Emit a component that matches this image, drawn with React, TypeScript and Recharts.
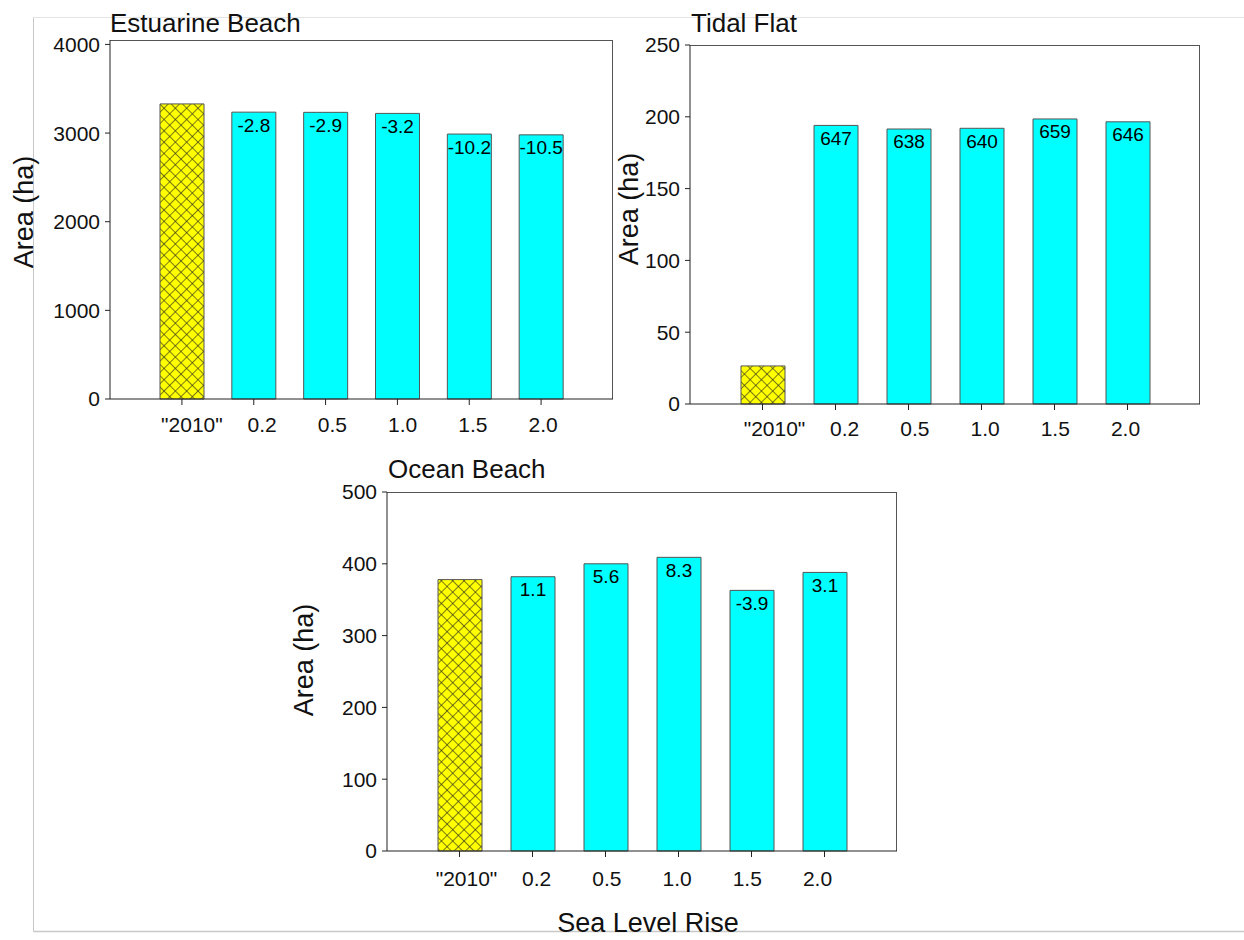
import React from "react";
import { BarChart, Bar, XAxis, YAxis, Cell, LabelList } from "recharts";

const FONT = '"Liberation Sans", Arial, sans-serif';

// x categories shared by the three panels (sea level rise scenarios)
const CATEGORIES = ['"2010"', "0.2", "0.5", "1.0", "1.5", "2.0"];

// Estuarine Beach, area (ha) and % change vs 2010
const ESTUARINE_AREA = [3329, 3236, 3234, 3222, 2989, 2980];
const ESTUARINE_CHANGE = [null, "-2.8", "-2.9", "-3.2", "-10.2", "-10.5"];
const ESTUARINE_TICKS = [0, 1000, 2000, 3000, 4000];

// Tidal Flat
const TIDAL_AREA = [26.5, 194, 191.5, 192, 198.5, 196.5];
const TIDAL_CHANGE = [null, "647", "638", "640", "659", "646"];
const TIDAL_TICKS = [0, 50, 100, 150, 200, 250];

// Ocean Beach
const OCEAN_AREA = [378, 382, 400, 409, 363, 388];
const OCEAN_CHANGE = [null, "1.1", "5.6", "8.3", "-3.9", "3.1"];
const OCEAN_TICKS = [0, 100, 200, 300, 400, 500];

const CYAN = "#00ffff";
const AXIS = "#222";

type Row = { name: string; area: number; change: string | null };

function buildRows(area: number[], change: (string | null)[]): Row[] {
  return CATEGORIES.map((name, i) => ({ name, area: area[i], change: change[i] }));
}

// tick labels in the original drift slightly left of their tick marks
function makeXTick(start: number, step: number) {
  return (props: any) => {
    const { x, y, payload } = props;
    const i = payload?.index ?? props.index ?? 0;
    return (
      <text
        x={x + start + step * i}
        y={y}
        dy="0.71em"
        textAnchor="middle"
        fontSize={21}
        fontFamily={FONT}
        fill="#111"
      >
        {payload.value}
      </text>
    );
  };
}

interface PanelProps {
  rows: Row[];
  ticks: number[];
  yMax: number;
  left: number;
  top: number;
  width: number;
  height: number;
  marginTop: number;
  marginRight: number;
  yAxisWidth: number;
  xAxisHeight: number;
  tickMargin: number;
  shift: [number, number];
}

function Panel(p: PanelProps) {
  const { rows, ticks, yMax, left, top, width, height, marginTop, marginRight, yAxisWidth, xAxisHeight, tickMargin, shift } = p;
  // top/right frame of the plot box, derived from the same layout numbers
  const plotW = width - yAxisWidth - marginRight;
  const plotH = height - marginTop - xAxisHeight;
  return (
    <div style={{ position: "absolute", left, top, width, height }}>
      <div
        style={{
          position: "absolute",
          left: yAxisWidth,
          top: marginTop - 0.5,
          width: plotW,
          height: plotH,
          borderTop: "1px solid #555",
          borderRight: "1px solid #555",
          boxSizing: "border-box",
        }}
      />
      <BarChart
        width={width}
        height={height}
        data={rows}
        margin={{ top: marginTop, right: marginRight, left: 0, bottom: 0 }}
        barSize={44}
      >
        <XAxis
          dataKey="name"
          interval={0}
          padding={{ left: 36, right: 36 }}
          height={xAxisHeight}
          tickSize={6}
          tickMargin={tickMargin}
          axisLine={{ stroke: AXIS }}
          tickLine={{ stroke: AXIS }}
          tick={makeXTick(shift[0], shift[1])}
        />
        <YAxis
          type="number"
          domain={[0, yMax]}
          ticks={ticks}
          interval={0}
          width={yAxisWidth}
          tickSize={5}
          tickMargin={5}
          axisLine={{ stroke: AXIS }}
          tickLine={{ stroke: AXIS }}
          tick={{ fontSize: 21, fill: "#111", fontFamily: FONT }}
        />
        <Bar dataKey="area" stroke="#555" strokeWidth={1} isAnimationActive={false}>
          {rows.map((_, i) => (
            <Cell key={i} fill={i === 0 ? "url(#hatch2010)" : CYAN} />
          ))}
          <LabelList
            dataKey="change"
            position="insideTop"
            offset={6}
            fontSize={19}
            fontFamily={FONT}
            fill="#000"
            isAnimationActive={false}
          />
        </Bar>
      </BarChart>
    </div>
  );
}

export default function App() {
  const estuarine = buildRows(ESTUARINE_AREA, ESTUARINE_CHANGE);
  const tidal = buildRows(TIDAL_AREA, TIDAL_CHANGE);
  const ocean = buildRows(OCEAN_AREA, OCEAN_CHANGE);

  const titleStyle = { fontSize: 26, fontFamily: FONT, fill: "#111" };
  const axisTitle = { fontSize: 27, fontFamily: FONT, fill: "#111" };

  return (
    <div style={{ position: "absolute", left: 0, top: 0, width: 1244, height: 940, background: "#fff", overflow: "hidden" }}>
      <svg width={0} height={0} style={{ position: "absolute" }}>
        <defs>
          <pattern id="hatch2010" patternUnits="userSpaceOnUse" width={8} height={8} patternTransform="rotate(45)">
            <rect width={8} height={8} fill="#ffff00" />
            <line x1={0} y1={0} x2={0} y2={8} stroke="#222" strokeWidth={1.2} />
            <line x1={0} y1={0} x2={8} y2={0} stroke="#222" strokeWidth={1.2} />
          </pattern>
        </defs>
      </svg>

      <Panel
        rows={estuarine}
        ticks={ESTUARINE_TICKS}
        yMax={4050}
        left={0}
        top={0}
        width={640}
        height={450}
        marginTop={40}
        marginRight={27}
        yAxisWidth={110}
        xAxisHeight={51}
        tickMargin={12}
        shift={[10, -1.6]}
      />
      <Panel
        rows={tidal}
        ticks={TIDAL_TICKS}
        yMax={250}
        left={620}
        top={0}
        width={600}
        height={450}
        marginTop={45}
        marginRight={20}
        yAxisWidth={70}
        xAxisHeight={46}
        tickMargin={11}
        shift={[12, -2.8]}
      />
      <Panel
        rows={ocean}
        ticks={OCEAN_TICKS}
        yMax={500}
        left={300}
        top={450}
        width={620}
        height={440}
        marginTop={42}
        marginRight={23}
        yAxisWidth={87}
        xAxisHeight={39}
        tickMargin={14}
        shift={[7, -2.8]}
      />

      <svg width={1244} height={940} style={{ position: "absolute", left: 0, top: 0, pointerEvents: "none" }}>
        {/* light frame around the whole figure */}
        <line x1={33.5} y1={17.5} x2={1244} y2={17.5} stroke="#e4e4e4" />
        <line x1={33.5} y1={17.5} x2={33.5} y2={931.5} stroke="#c8c8c8" />
        <line x1={33.5} y1={931.5} x2={1244} y2={931.5} stroke="#c8c8c8" strokeWidth={1.5} />

        <text x={110} y={32} {...titleStyle}>Estuarine Beach</text>
        <text x={691} y={32} {...titleStyle}>Tidal Flat</text>
        <text x={388} y={478} {...titleStyle}>Ocean Beach</text>

        <text x={24} y={212} transform="rotate(-90 24 212)" textAnchor="middle" dominantBaseline="central" {...axisTitle}>
          Area (ha)
        </text>
        <text x={629} y={209} transform="rotate(-90 629 209)" textAnchor="middle" dominantBaseline="central" {...axisTitle}>
          Area (ha)
        </text>
        <text x={304} y={660} transform="rotate(-90 304 660)" textAnchor="middle" dominantBaseline="central" {...axisTitle}>
          Area (ha)
        </text>

        <text x={648} y={932} textAnchor="middle" {...axisTitle}>Sea Level Rise</text>
      </svg>
    </div>
  );
}
